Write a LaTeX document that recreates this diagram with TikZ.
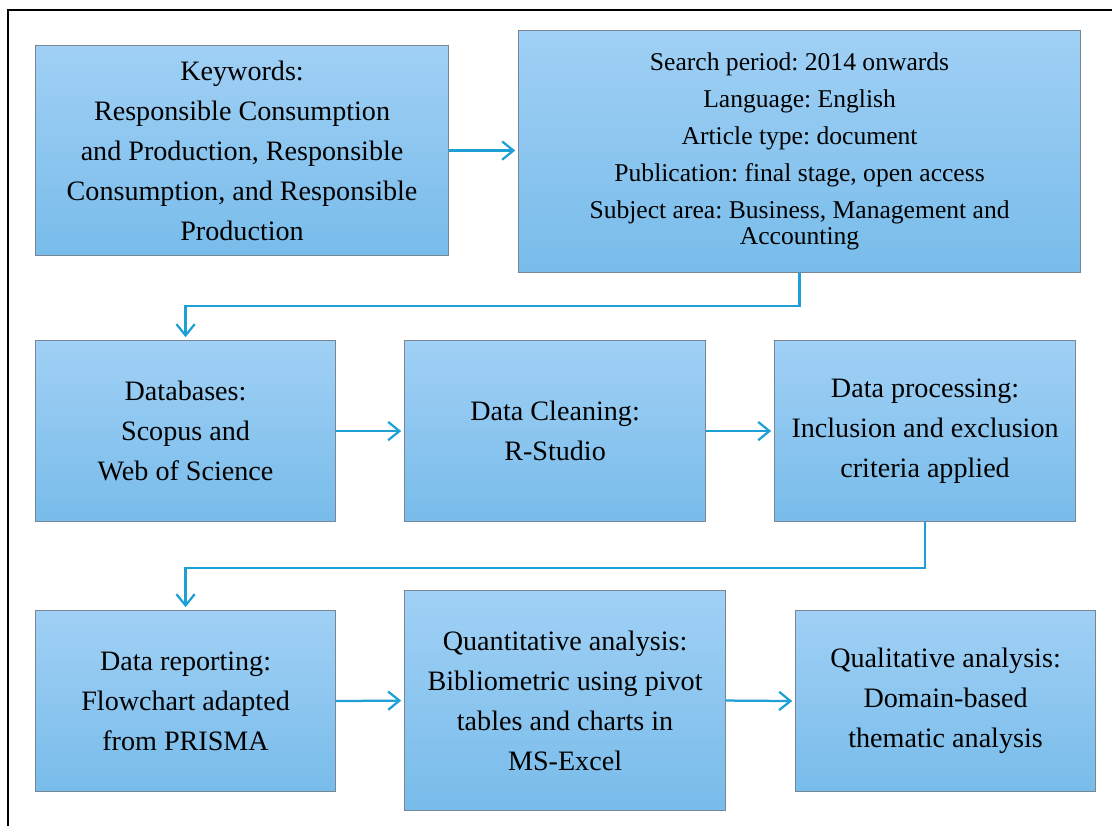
\documentclass[tikz,border=0pt]{standalone}
\usepackage{fontspec}
\setmainfont{Liberation Serif}
\usetikzlibrary{arrows.meta}
\definecolor{boxtop}{RGB}{160,208,245}
\definecolor{boxbot}{RGB}{120,188,234}
\definecolor{boxline}{RGB}{120,135,150}
\definecolor{flowblue}{RGB}{30,160,215}
\newcommand{\px}{0.025cm}
\frenchspacing
\tikzset{
  stepnode/.style  = {shape=rectangle, draw=boxline, line width=0.8pt,
                      align=center, inner sep=0pt, anchor=north west,
                      top color=boxtop, bottom color=boxbot,
                      font=\fontsize{20}{28.45}\selectfont},
  searchnode/.style = {stepnode, font=\fontsize{18.2}{26.3}\selectfont},
  flow/.style      = {draw=flowblue, line width=1.6pt, shorten >=2pt,
                      -{Straight Barb[length=8pt,width=13pt]}}
}
\begin{document}
\begin{tikzpicture}[x=\px, y=-\px]
  \useasboundingbox (0,0) rectangle (1112,826);
  \draw[line width=1.4pt] (8,826) -- (8,10) -- (1112,10);

  \node[stepnode, minimum width=413*\px, minimum height=210*\px] (kw) at (35,45)
    {Keywords:\\Responsible Consumption\\and Production, Responsible\\Consumption, and Responsible\\Production};
  \node[searchnode, minimum width=562*\px, minimum height=242*\px] (search) at (518,30)
    {Search period: 2014 onwards\\Language: English\\Article type: document\\Publication: final stage, open access\\Subject area: Business, Management and\\[-7.8pt]Accounting};
  \node[stepnode, minimum width=300*\px, minimum height=181*\px] (db) at (35,340)
    {Databases:\\Scopus and\\Web of Science};
  \node[stepnode, minimum width=301*\px, minimum height=181*\px] (clean) at (404,340)
    {Data Cleaning:\\R-Studio};
  \node[stepnode, minimum width=301*\px, minimum height=181*\px] (proc) at (774,340)
    {Data processing:\\Inclusion and exclusion\\criteria applied};
  \node[stepnode, minimum width=300*\px, minimum height=181*\px] (report) at (35,610)
    {Data reporting:\\Flowchart adapted\\from PRISMA};
  \node[stepnode, minimum width=321*\px, minimum height=220*\px] (quant) at (404,590)
    {Quantitative analysis:\\Bibliometric using pivot\\tables and charts in\\MS-Excel};
  \node[stepnode, minimum width=300*\px, minimum height=181*\px] (qual) at (795,610)
    {Qualitative analysis:\\Domain-based\\thematic analysis};

  \draw[flow] (kw.east) -- (kw.east -| search.west);
  \draw[flow] (search.south) -- ++(0,33) -| (db.north);
  \draw[flow] (db.east) -- (clean.west);
  \draw[flow] (clean.east) -- (proc.west);
  \draw[flow] (proc.south) -- ++(0,46) -| (report.north);
  \draw[flow] (report.east) -- (quant.west);
  \draw[flow] (quant.east) -- (qual.west);
\end{tikzpicture}
\end{document}
